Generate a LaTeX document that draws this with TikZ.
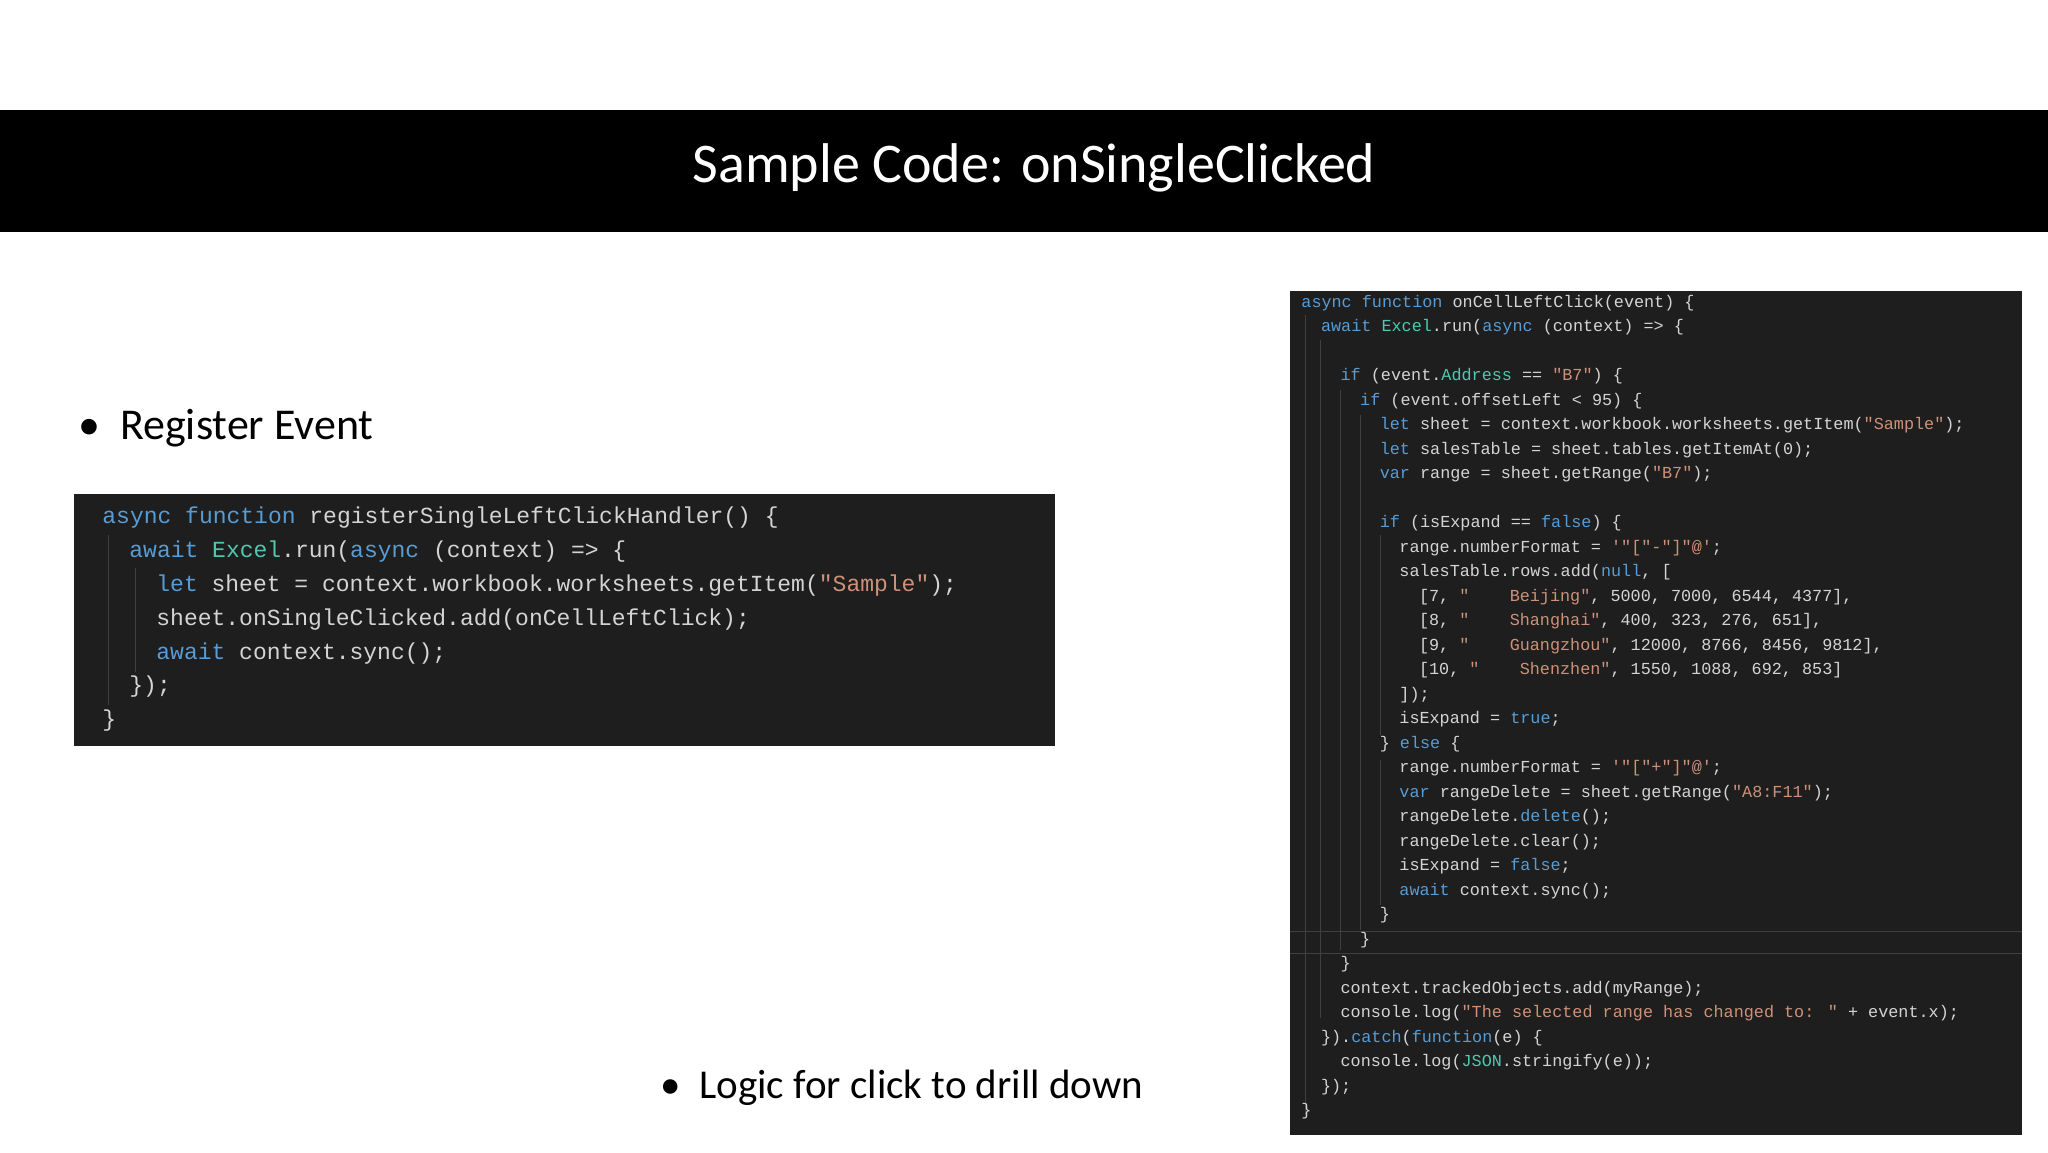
\documentclass[tikz,border=0pt]{standalone}
\usepackage{fontspec}
\setmainfont{Carlito}
\newfontfamily\codefont{Liberation Mono}
\definecolor{kwc}{HTML}{569CD6}
\definecolor{tyc}{HTML}{4EC9B0}
\definecolor{stc}{HTML}{CE9178}
\definecolor{txc}{HTML}{D4D4D4}
\definecolor{bgc}{HTML}{1E1E1E}
\definecolor{guide}{HTML}{404040}
\newcommand{\kw}[1]{\textcolor{kwc}{#1}}
\newcommand{\ty}[1]{\textcolor{tyc}{#1}}
\newcommand{\stt}[1]{\textcolor{stc}{#1}}
\newcommand{\lc}[4]{\node[codeL] (#1) at ({102+13.5*#3},{518+33.8*(#2-1)}) {#4};}
\newcommand{\rc}[4]{\node[codeR] (#1) at ({1301+9.8*#3},{303+24.5*(#2-1)}) {#4};}
\begin{document}
\begin{tikzpicture}[x=0.5pt,y=-0.5pt,
  codeL/.style={anchor=west,inner sep=0pt,text=txc,font=\codefont\fontsize{11.5}{13}\selectfont},
  codeR/.style={anchor=west,inner sep=0pt,text=txc,font=\codefont\fontsize{8.4}{10}\selectfont},
  bullet/.style={anchor=west,inner sep=0pt,font=\fontsize{22}{26}\selectfont},
  guideline/.style={draw=guide,line width=0.5pt}]
\useasboundingbox (0,0) rectangle (2048,1152);
\fill[white] (0,0) rectangle (2048,1152);
\fill[black] (0,110) rectangle (2048,232);
\node[text=white,font=\fontsize{28}{32}\selectfont] (title) at (1034,168) {Sample Code: onSingleClicked};
\node[bullet] (b1) at (78,428) {\textbullet\ \ Register Event};
\node[bullet,font=\fontsize{20.5}{24}\selectfont] (b2) at (660,1088) {\textbullet\ \ Logic for click to drill down};
% left code
\fill[bgc] (74,494) rectangle (1055,746);
\draw[guideline] (108,535) -- (108,705);
\draw[guideline] (135,568) -- (135,672);
\lc{l1}{1}{0}{\kw{async function} registerSingleLeftClickHandler() \{}
\lc{l2}{2}{2}{\kw{await} \ty{Excel}.run(\kw{async} (context) => \{}
\lc{l3}{3}{4}{\kw{let} sheet = context.workbook.worksheets.getItem(\stt{"Sample"});}
\lc{l4}{4}{4}{sheet.onSingleClicked.add(onCellLeftClick);}
\lc{l5}{5}{4}{\kw{await} context.sync();}
\lc{l6}{6}{2}{\});}
\lc{l7}{7}{0}{\}}
% right code
\fill[bgc] (1290,291) rectangle (2022,1135);
\draw[guideline] (1305,315) -- (1305,1115);
\draw[guideline] (1320,340) -- (1320,1018);
\draw[guideline] (1340,390) -- (1340,950);
\draw[guideline] (1360,415) -- (1360,930);
\draw[guideline] (1380,535) -- (1380,735);
\draw[guideline] (1380,760) -- (1380,905);
\draw[guideline] (1290,931) -- (2022,931);
\draw[guideline] (1290,953) -- (2022,953);
\rc{r1}{1}{0}{\kw{async function} onCellLeftClick(event) \{}
\rc{r2}{2}{2}{\kw{await} \ty{Excel}.run(\kw{async} (context) => \{}
\rc{r4}{4}{4}{\kw{if} (event.\ty{Address} == \stt{"B7"}) \{}
\rc{r5}{5}{6}{\kw{if} (event.offsetLeft < 95) \{}
\rc{r6}{6}{8}{\kw{let} sheet = context.workbook.worksheets.getItem(\stt{"Sample"});}
\rc{r7}{7}{8}{\kw{let} salesTable = sheet.tables.getItemAt(0);}
\rc{r8}{8}{8}{\kw{var} range = sheet.getRange(\stt{"B7"});}
\rc{r10}{10}{8}{\kw{if} (isExpand == \kw{false}) \{}
\rc{r11}{11}{10}{range.numberFormat = \stt{'"["-"]"@'};}
\rc{r12}{12}{10}{salesTable.rows.add(\kw{null}, [}
\rc{r13}{13}{12}{[7, \stt{"\ \ \ \ Beijing"}, 5000, 7000, 6544, 4377],}
\rc{r14}{14}{12}{[8, \stt{"\ \ \ \ Shanghai"}, 400, 323, 276, 651],}
\rc{r15}{15}{12}{[9, \stt{"\ \ \ \ Guangzhou"}, 12000, 8766, 8456, 9812],}
\rc{r16}{16}{12}{[10, \stt{"\ \ \ \ Shenzhen"}, 1550, 1088, 692, 853]}
\rc{r17}{17}{10}{]);}
\rc{r18}{18}{10}{isExpand = \kw{true};}
\rc{r19}{19}{8}{\} \kw{else} \{}
\rc{r20}{20}{10}{range.numberFormat = \stt{'"["+"]"@'};}
\rc{r21}{21}{10}{\kw{var} rangeDelete = sheet.getRange(\stt{"A8:F11"});}
\rc{r22}{22}{10}{rangeDelete.\kw{delete}();}
\rc{r23}{23}{10}{rangeDelete.clear();}
\rc{r24}{24}{10}{isExpand = \kw{false};}
\rc{r25}{25}{10}{\kw{await} context.sync();}
\rc{r26}{26}{8}{\}}
\rc{r27}{27}{6}{\}}
\rc{r28}{28}{4}{\}}
\rc{r29}{29}{4}{context.trackedObjects.add(myRange);}
\rc{r30}{30}{4}{console.log(\stt{"The selected range has changed to: "} + event.x);}
\rc{r31}{31}{2}{\}).\kw{catch}(\kw{function}(e) \{}
\rc{r32}{32}{4}{console.log(\ty{JSON}.stringify(e));}
\rc{r33}{33}{2}{\});}
\rc{r34}{34}{0}{\}}
\end{tikzpicture}
\end{document}
